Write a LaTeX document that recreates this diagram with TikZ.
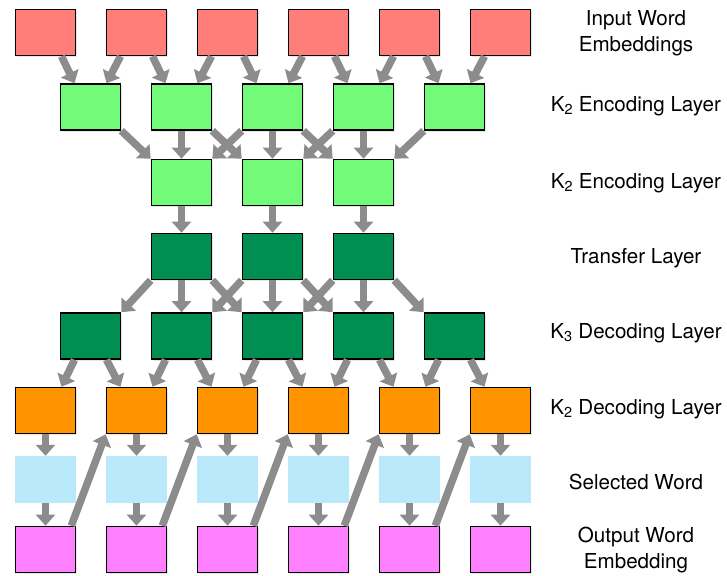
\documentclass[tikz,border=0pt]{standalone}
\usepackage{fontspec}
\setmainfont{TeX Gyre Heros}
\usetikzlibrary{arrows.meta,calc,positioning,shadows}

\definecolor{inred}{RGB}{255,126,121}
\definecolor{encgreen}{RGB}{115,250,121}
\definecolor{trgreen}{RGB}{0,143,81}
\definecolor{decorange}{RGB}{255,147,0}
\definecolor{selblue}{RGB}{186,233,252}
\definecolor{outpink}{RGB}{255,128,255}
\definecolor{flowgray}{RGB}{140,140,140}

\tikzset{
  box/.style={draw=black, line width=1.6pt, minimum width=60pt, minimum height=46pt, inner sep=0pt,
    drop shadow={opacity=0.2, shadow xshift=1pt, shadow yshift=-1.5pt}},
  selbox/.style={minimum width=61pt, minimum height=47pt, inner sep=0pt, fill=selblue},
  flow/.style={draw=flowgray, line width=7.5pt, -{Triangle[width=19pt,length=11pt]}},
  lbl/.style={align=center, font=\fontsize{20.6}{26}\selectfont}
}

\begin{document}
\begin{tikzpicture}[x=1pt, y=-1pt]
    \useasboundingbox (0,0) rectangle (727,575);
    % boxes
    \foreach \i in {1,...,6} {
        \node[box, fill=inred] (in\i) at ({45.5+91*(\i-1)}, 32.5) {};
        \node[box, fill=decorange] (dk\i) at ({45.5+91*(\i-1)}, 410.5) {};
        \node[selbox] (sel\i) at ({45.5+91*(\i-1)}, 479.5) {};
        \node[box, fill=outpink] (out\i) at ({45.5+91*(\i-1)}, 549.5) {};
    }
    \foreach \j in {1,...,5} {
        \node[box, fill=encgreen] (enA\j) at ({90.5+91*(\j-1)}, 107) {};
        \node[box, fill=trgreen] (de\j) at ({90.5+91*(\j-1)}, 336) {};
    }
    \foreach \k in {1,2,3} {
        \node[box, fill=encgreen] (enB\k) at ({181.5+91*(\k-1)}, 182.5) {};
        \node[box, fill=trgreen] (tr\k) at ({181.5+91*(\k-1)}, 256.5) {};
    }
    % connections
    \foreach \j in {1,...,5} {
        \pgfmathtruncatemacro{\n}{\j+1}
        \draw[flow] ([xshift=16pt]in\j.south) -- ([xshift=-16pt]enA\j.north);
        \draw[flow] ([xshift=-16pt]in\n.south) -- ([xshift=16pt]enA\j.north);
        \draw[flow] ([xshift=-16pt]de\j.south) -- ([xshift=16pt]dk\j.north);
        \draw[flow] ([xshift=16pt]de\j.south) -- ([xshift=-16pt]dk\n.north);
        \draw[flow] ([xshift=-5pt]out\j.north east) -- (dk\n.south west);
    }
    \foreach \k in {1,2,3} {
        \pgfmathtruncatemacro{\n}{\k+1}
        \pgfmathtruncatemacro{\m}{\k+2}
        \draw[flow] (enA\k.south east) -- (enB\k.north west);
        \draw[flow] (enA\n.south) -- (enB\k.north);
        \draw[flow] (enA\m.south west) -- (enB\k.north east);
        \draw[flow] (enB\k.south) -- (tr\k.north);
        \draw[flow] (tr\k.south west) -- (de\k.north east);
        \draw[flow] (tr\k.south) -- (de\n.north);
        \draw[flow] (tr\k.south east) -- (de\m.north west);
    }
    \foreach \i in {1,...,6} {
        \draw[flow] (dk\i.south) -- (sel\i.north);
        \draw[flow] (sel\i.south) -- (out\i.north);
    }
    % layer names
    \node[lbl] (lblIn) at (636, 33) {Input Word\\Embeddings};
    \node[lbl] (lblEncA) at (636, 106) {K\textsubscript{2} Encoding Layer};
    \node[lbl] (lblEncB) at (636, 183) {K\textsubscript{2} Encoding Layer};
    \node[lbl] (lblTr) at (636, 258) {Transfer Layer};
    \node[lbl] (lblDecA) at (636, 333) {K\textsubscript{3} Decoding Layer};
    \node[lbl] (lblDecB) at (636, 409) {K\textsubscript{2} Decoding Layer};
    \node[lbl] (lblSel) at (636, 482) {Selected Word};
    \node[lbl] (lblOut) at (636, 550) {Output Word\\Embedding};
\end{tikzpicture}
\end{document}
